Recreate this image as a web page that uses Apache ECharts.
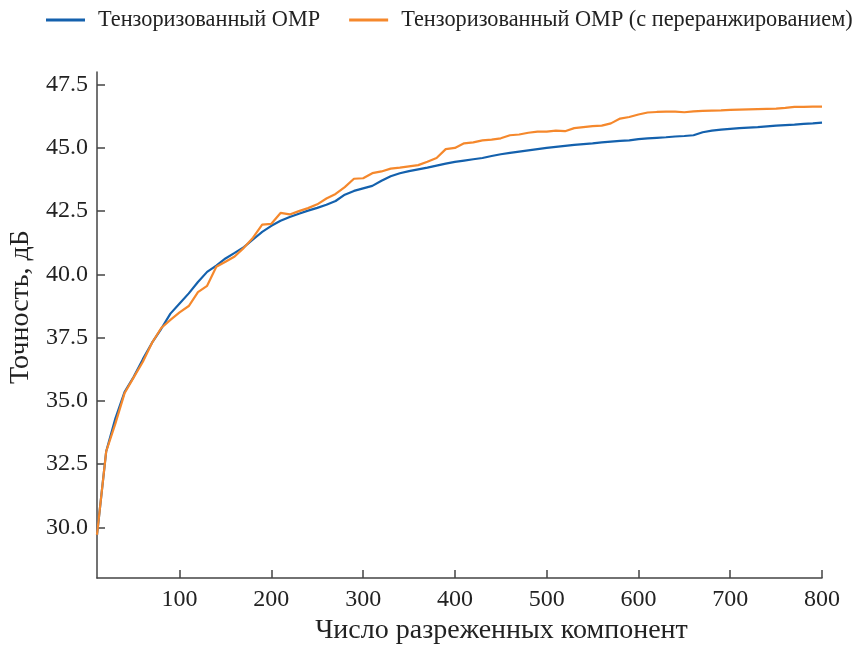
<!DOCTYPE html>
<html>
<head>
<meta charset="utf-8">
<script src="https://cdn.jsdelivr.net/npm/echarts@6/dist/echarts.min.js"></script>
<style>html,body{margin:0;padding:0;background:#fff}#c{width:855px;height:645px}</style>
</head>
<body>
<div id="c"></div>
<script>
const seriesNames = ['Тензоризованный ОМР', 'Тензоризованный ОМР (с переранжированием)'];
const xs = [10,20,30,40,50,60,70,80,90,100,110,120,130,140,150,160,170,180,190,200,210,220,230,240,250,260,270,280,290,300,310,320,330,340,350,360,370,380,390,400,410,420,430,440,450,460,470,480,490,500,510,520,530,540,550,560,570,580,590,600,610,620,630,640,650,660,670,680,690,700,710,720,730,740,750,760,770,780,790,800];
const omp = [29.7,33.0,34.3,35.35,35.95,36.65,37.3,37.85,38.45,38.85,39.25,39.7,40.1,40.35,40.63,40.85,41.08,41.38,41.68,41.92,42.12,42.27,42.4,42.52,42.63,42.75,42.9,43.15,43.3,43.4,43.5,43.7,43.88,44.0,44.08,44.15,44.22,44.3,44.38,44.45,44.5,44.55,44.6,44.68,44.75,44.8,44.85,44.9,44.95,45.0,45.04,45.08,45.12,45.15,45.18,45.22,45.25,45.28,45.3,45.35,45.38,45.4,45.42,45.45,45.47,45.5,45.62,45.68,45.72,45.75,45.78,45.8,45.82,45.85,45.88,45.9,45.92,45.95,45.97,46.0];
const ompRerank = [29.7,33.0,34.1,35.3,35.93,36.55,37.3,37.88,38.2,38.5,38.75,39.3,39.55,40.3,40.5,40.71,41.05,41.45,41.97,42.0,42.43,42.37,42.5,42.62,42.77,43.0,43.18,43.45,43.78,43.8,44.0,44.07,44.18,44.22,44.27,44.32,44.45,44.6,44.95,45.0,45.18,45.22,45.3,45.33,45.38,45.5,45.53,45.6,45.64,45.64,45.68,45.66,45.78,45.82,45.86,45.88,45.97,46.16,46.22,46.32,46.4,46.42,46.43,46.43,46.41,46.44,46.46,46.47,46.48,46.5,46.51,46.52,46.53,46.54,46.55,46.58,46.62,46.62,46.63,46.63];
const xTicks = [100,200,300,400,500,600,700,800];
const yTicks = [30,32.5,35,37.5,40,42.5,45,47.5];
const xName = 'Число разреженных компонент';
const yName = 'Точность, дБ';

const FONT = '"Liberation Serif", "DejaVu Serif", serif';
const chart = echarts.init(document.getElementById('c'), null, {renderer: 'canvas'});
const axisCommon = {
  axisLine: {show: true, lineStyle: {color: '#444', width: 1.5}},
  axisTick: {show: true, inside: true, length: 8, lineStyle: {color: '#444', width: 1.5}},
  splitLine: {show: false}
};
chart.setOption({
  animation: false,
  grid: {left: 97, right: 33, top: 72, bottom: 67, containLabel: false, outerBoundsMode: 'none'},
  legend: {
    top: 4, left: 41, width: 900, itemGap: 29, itemWidth: 39, itemHeight: 3, icon: 'rect',
    textStyle: {fontFamily: FONT, fontSize: 22.3, color: '#222', padding: [0,0,0,8]},
    data: seriesNames
  },
  xAxis: Object.assign({}, axisCommon, {
    type: 'value', min: 10, max: 800,
    name: xName, nameLocation: 'middle', nameGap: 39,
    nameTextStyle: {fontFamily: FONT, fontSize: 28, color: '#222', padding: [0,0,0,84]},
    axisTick: Object.assign({}, axisCommon.axisTick, {customValues: xTicks}),
    axisLabel: {customValues: xTicks, fontFamily: FONT, fontSize: 24, color: '#222', margin: 10}
  }),
  yAxis: Object.assign({}, axisCommon, {
    type: 'value', min: 28, max: 48,
    name: yName, nameLocation: 'middle', nameGap: 60,
    nameTextStyle: {fontFamily: FONT, fontSize: 28, color: '#222', padding: [0,0,0,36]},
    axisTick: Object.assign({}, axisCommon.axisTick, {customValues: yTicks}),
    axisLabel: {customValues: yTicks, formatter: v => v.toFixed(1), fontFamily: FONT, fontSize: 24, color: '#222', margin: 9}
  }),
  series: [
    {name: seriesNames[0], type: 'line', data: xs.map((x,i)=>[x, omp[i]]), showSymbol: false, symbol: 'none',
     lineStyle: {color: '#1461ad', width: 2.2}, itemStyle: {color: '#1461ad'}},
    {name: seriesNames[1], type: 'line', data: xs.map((x,i)=>[x, ompRerank[i]]), showSymbol: false, symbol: 'none',
     lineStyle: {color: '#f5882c', width: 2.2}, itemStyle: {color: '#f5882c'}}
  ]
});
</script>
</body>
</html>
